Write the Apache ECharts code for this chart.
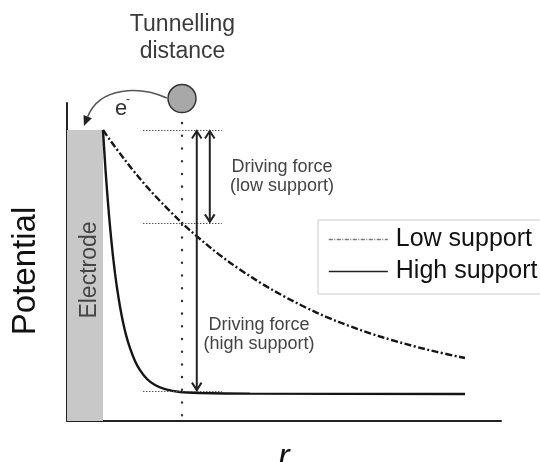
<!DOCTYPE html>
<html>
<head>
<meta charset="utf-8">
<script src="https://cdn.jsdelivr.net/npm/echarts@6/dist/echarts.min.js"></script>
<style>html,body{margin:0;padding:0;background:#fff}#c{width:540px;height:462px}</style>
</head>
<body>
<div id="c"></div>
<script>
// ---- data (abstract units: r 0..100, potential 0..100) ----
const seriesNames = ['Low support', 'High support'];
const lowSupport = [[8.3,91.5],[10,88.2],[12,84.5],[15,79.2],[18,74.3],[21,69.8],[24,65.6],[27,61.6],[30,58.0],[35,52.4],[40,47.5],[45,43.1],[50,39.2],[55,35.7],[60,32.6],[65,29.9],[70,27.5],[75,25.4],[80,23.5],[85,21.8],[91.7,19.8]];
const highSupport = [[8.29,91.5],[8.53,86.3],[8.87,79.1],[9.22,72.5],[9.68,64.7],[10.14,57.9],[10.6,51.8],[11.06,46.5],[11.52,41.9],[12.21,36.0],[12.9,31.1],[13.59,27.1],[14.52,22.9],[15.67,18.9],[16.82,16.0],[18.43,13.2],[20.28,11.3],[22.58,10.0],[26.04,9.1],[30.65,8.8],[42.17,8.6],[91.7,8.5]];
const electrode = [0, 8.3, 91.5];            // x from, x to, top level
const levels = [91.5, 62.3, 9.4];            // start level, low-support end, high-support end
const levelSpan = [17.5, 35.7];              // x extent of the dotted level lines
const tunnelX = 26.5;                        // tunnelling distance
const tunnelTop = 93.7;
const acceptor = [[26.5, 101.4]];            // the gray ball
const drivingArrows = [[29.9, 91.5, 9.4], [32.9, 91.5, 62.3]]; // x, from, to
const eArrowPath = [[23.0,101.6],[16.8,105.3],[7.6,105.3],[3.9,92.8]];

const FONT = 'Liberation Sans, Arial, sans-serif';
const chart = echarts.init(document.getElementById('c'), null, {renderer: 'canvas'});

const option = {
  animation: false,
  backgroundColor: '#fff',
  grid: {left: 67, right: 39, top: 103, bottom: 41, containLabel: false, outerBoundsMode: 'none'},
  xAxis: {
    type: 'value', min: 0, max: 100,
    axisLine: {show: true, onZero: false, lineStyle: {color: '#222', width: 2}},
    axisTick: {show: false}, axisLabel: {show: false}, splitLine: {show: false},
    name: 'r', nameLocation: 'middle', nameGap: 20,
    nameTextStyle: {fontFamily: FONT, fontSize: 34, fontStyle: 'italic', color: '#111'}
  },
  yAxis: {
    type: 'value', min: 0, max: 100,
    axisLine: {show: true, onZero: false, lineStyle: {color: '#222', width: 2}},
    axisTick: {show: false}, axisLabel: {show: false}, splitLine: {show: false},
    name: 'Potential', nameLocation: 'middle', nameGap: 25, nameRotate: 90,
    nameTextStyle: {fontFamily: FONT, fontSize: 33, color: '#111', padding: [0, 18, 0, 0]}
  },
  legend: {
    orient: 'vertical', left: 318, top: 220,
    itemWidth: 59, itemHeight: 14, itemGap: 7,
    padding: [7, 30, 10, 10],
    borderColor: '#cccccc', borderWidth: 1, backgroundColor: '#fff',
    textStyle: {fontFamily: FONT, fontSize: 25, color: '#111', padding: [0, 0, 0, 3]},
    selectedMode: false,
    data: [
      {name: seriesNames[0], itemStyle: {opacity: 0}, lineStyle: {color: '#777', width: 1.3, type: [4, 1.5, 1, 1.5]}},
      {name: seriesNames[1], itemStyle: {opacity: 0}, lineStyle: {color: '#222', width: 1.6}}
    ]
  },
  series: [
    {
      name: seriesNames[0], type: 'line', data: lowSupport, showSymbol: false, symbol: 'none',
      smooth: 0.35, silent: true, z: 3,
      lineStyle: {color: '#151515', width: 2.4, type: [7, 2.5, 2, 2.5]},
      itemStyle: {color: '#151515'}
    },
    {
      name: seriesNames[1], type: 'line', data: highSupport, showSymbol: false, symbol: 'none',
      smooth: 0.3, silent: true, z: 3,
      lineStyle: {color: '#151515', width: 2.4},
      itemStyle: {color: '#151515'},
      markArea: {
        silent: true, itemStyle: {color: '#c8c8c8'},
        data: [[{coord: [electrode[0], 0]}, {coord: [electrode[1], electrode[2]]}]]
      },
      markLine: {
        silent: true, symbol: ['none', 'none'], label: {show: false},
        lineStyle: {color: '#555', width: 1, type: [1.5, 1.5]},
        data: levels.map(l => [{coord: [levelSpan[0], l]}, {coord: [levelSpan[1], l]}])
      }
    },
    {
      name: 'tunnel', type: 'line', data: [[tunnelX, tunnelTop], [tunnelX, 0]],
      symbol: 'none', silent: true, z: 2,
      lineStyle: {color: '#333', width: 2.4, type: [0.1, 12.6], cap: 'round'}
    },
    {
      name: 'acceptor', type: 'scatter', data: acceptor, symbolSize: 28, clip: false, silent: true, z: 4,
      itemStyle: {color: '#a8a8a8', borderColor: '#333', borderWidth: 1.5, opacity: 1}
    },
    {
      name: 'driving', type: 'custom', data: drivingArrows, silent: true, z: 5,
      encode: {x: 0, y: [1, 2]},
      renderItem: function (params, api) {
        const x = api.value(0);
        const a = api.coord([x, api.value(1)]);
        const b = api.coord([x, api.value(2)]);
        const w = 4.8, h = 8.5;
        const st = {stroke: '#222', lineWidth: 2, fill: null};
        return {type: 'group', children: [
          {type: 'line', shape: {x1: a[0], y1: a[1] + 1, x2: b[0], y2: b[1] - 1}, style: st},
          {type: 'polyline', shape: {points: [[a[0] - w, a[1] + h], [a[0], a[1] + 1], [a[0] + w, a[1] + h]]}, style: st},
          {type: 'polyline', shape: {points: [[b[0] - w, b[1] - h], [b[0], b[1] - 1], [b[0] + w, b[1] - h]]}, style: st}
        ]};
      }
    },
    {
      name: 'electron', type: 'custom', data: [0], silent: true, z: 5,
      renderItem: function (params, api) {
        const p = eArrowPath.map(q => api.coord(q));
        const dx = p[3][0] - p[2][0], dy = p[3][1] - p[2][1];
        const L = Math.sqrt(dx * dx + dy * dy), ux = dx / L, uy = dy / L;
        const hl = 10, hw = 4.5;
        const bx = p[3][0] - ux * hl, by = p[3][1] - uy * hl;
        return {type: 'group', children: [
          {type: 'bezierCurve', shape: {x1: p[0][0], y1: p[0][1], cpx1: p[1][0], cpy1: p[1][1], cpx2: p[2][0], cpy2: p[2][1], x2: bx, y2: by},
            style: {stroke: '#555', lineWidth: 1.6, fill: null}},
          {type: 'polygon', shape: {points: [[p[3][0], p[3][1]], [bx - uy * hw, by + ux * hw], [bx + uy * hw, by - ux * hw]]},
            style: {fill: '#222'}}
        ]};
      }
    }
  ],
  graphic: [
    {type: 'text', z: 10, style: {text: 'Tunnelling', x: 182.5, y: 25, align: 'center', verticalAlign: 'middle', font: '23px ' + FONT, fill: '#3a3a3a'}},
    {type: 'text', z: 10, style: {text: 'distance', x: 182.5, y: 52, align: 'center', verticalAlign: 'middle', font: '23px ' + FONT, fill: '#3a3a3a'}},
    {type: 'text', z: 10, style: {text: 'e', x: 121, y: 109, align: 'center', verticalAlign: 'middle', font: '22px ' + FONT, fill: '#333'}},
    {type: 'text', z: 10, style: {text: '-', x: 128, y: 100, align: 'center', verticalAlign: 'middle', font: '12px ' + FONT, fill: '#333'}},
    {type: 'text', z: 10, style: {text: 'Driving force', x: 282, y: 167.5, align: 'center', verticalAlign: 'middle', font: '18px ' + FONT, fill: '#444'}},
    {type: 'text', z: 10, style: {text: '(low support)', x: 282, y: 186, align: 'center', verticalAlign: 'middle', font: '18px ' + FONT, fill: '#444'}},
    {type: 'text', z: 10, style: {text: 'Driving force', x: 259, y: 325, align: 'center', verticalAlign: 'middle', font: '18px ' + FONT, fill: '#444'}},
    {type: 'text', z: 10, style: {text: '(high support)', x: 259, y: 344, align: 'center', verticalAlign: 'middle', font: '18px ' + FONT, fill: '#444'}},
    {type: 'text', z: 10, x: 89.5, y: 270, rotation: Math.PI / 2,
      style: {text: 'Electrode', x: 0, y: 0, align: 'center', verticalAlign: 'middle', font: '23px ' + FONT, fill: '#444'}}
  ]
};
chart.setOption(option);
</script>
</body>
</html>
